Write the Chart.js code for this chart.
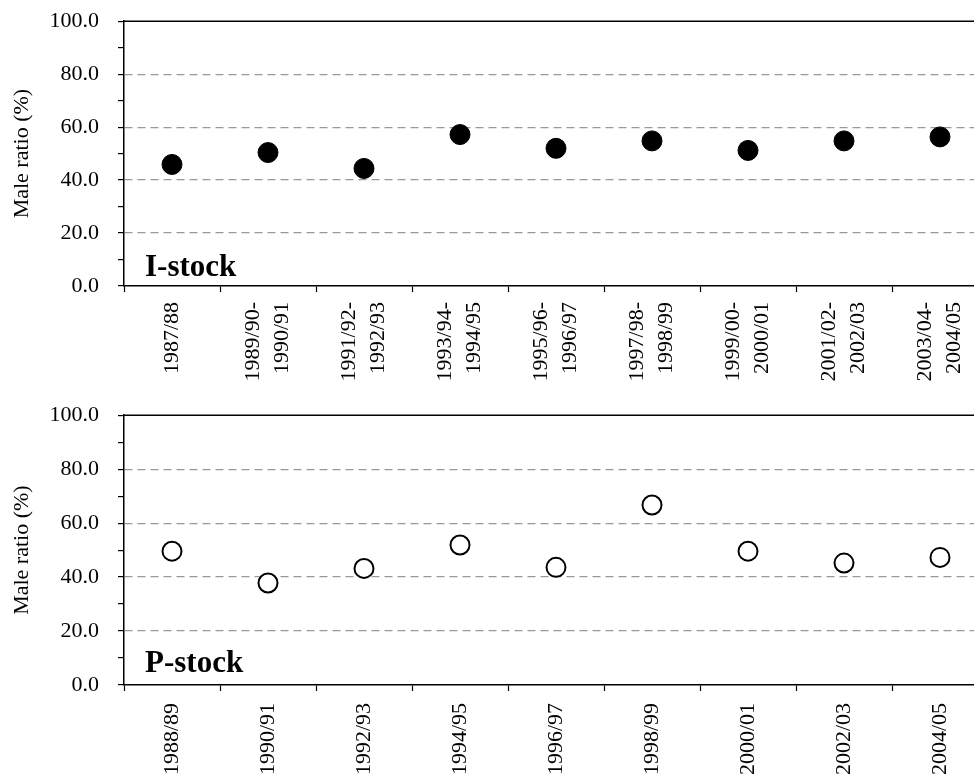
<!DOCTYPE html>
<html>
<head>
<meta charset="utf-8">
<title>Male ratio by season</title>
<script src="https://cdn.jsdelivr.net/npm/chart.js@4.4.1/dist/chart.umd.min.js"></script>
<style>
  html, body { margin: 0; padding: 0; background: #fff; overflow: hidden; }
  #wrap { position: relative; width: 974px; height: 783px; overflow: hidden; }
  canvas { position: absolute; left: 0; }
  /* the y tick padding pushes the plot down ~32px, so the canvases start a bit higher */
  #chartI { top: -11px; }
  #chartP { top: 383px; }
</style>
</head>
<body>
<div id="wrap">
  <canvas id="chartI" width="1018" height="401"></canvas>
  <canvas id="chartP" width="1018" height="400"></canvas>
</div>
<script>
// season labels (multi-line ones are split into two rows)
const seasonsI = [
    '1987/88',
    ['1989/90-', '1990/91'],
    ['1991/92-', '1992/93'],
    ['1993/94-', '1994/95'],
    ['1995/96-', '1996/97'],
    ['1997/98-', '1998/99'],
    ['1999/00-', '2000/01'],
    ['2001/02-', '2002/03'],
    ['2003/04-', '2004/05']
];
const seasonsP = ['1988/89', '1990/91', '1992/93', '1994/95', '1996/97',
                  '1998/99', '2000/01', '2002/03', '2004/05'];

// male ratio (%)
const maleRatioI = [45.9, 50.4, 44.4, 57.2, 52.0, 54.8, 51.2, 54.8, 56.3];
const maleRatioP = [49.6, 37.8, 43.2, 51.9, 43.6, 66.7, 49.6, 45.2, 47.3];

const yTicks = [0, 20, 40, 60, 80, 100];

const SERIF = "'Liberation Serif', 'Times New Roman', serif";
const LABEL_SIZE = 22;
const LABEL_LH = 29;   // px between the two rows of a rotated label

// frame line along the top of the plot + stock name in the corner
const panelDecor = {
    id: 'panelDecor',
    afterDraw(chart, args, opts) {
        const { ctx, chartArea } = chart;
        ctx.save();
        ctx.strokeStyle = '#000';
        ctx.lineWidth = 1.5;
        ctx.beginPath();
        ctx.moveTo(chartArea.left, chartArea.top);
        ctx.lineTo(chartArea.right, chartArea.top);
        ctx.stroke();
        ctx.fillStyle = '#000';
        ctx.font = 'bold 31px ' + SERIF;
        ctx.textBaseline = 'alphabetic';
        ctx.textAlign = 'left';
        ctx.fillText(opts.text, chartArea.left + 21, chartArea.bottom - opts.lift);
        ctx.restore();
    }
};

function makeChart(id, labels, values, filled, name, xHeight, lift, xPad) {
    const twoRow = labels.some(Array.isArray);
    const ctx = document.getElementById(id).getContext('2d');
    return new Chart(ctx, {
        type: 'line',
        data: {
            labels: labels,
            datasets: [{
                data: values,
                showLine: false,
                pointRadius: filled ? 10 : 9.5,
                pointHoverRadius: filled ? 10 : 9.5,
                pointBorderWidth: filled ? 1 : 2,
                pointBackgroundColor: filled ? '#000' : '#fff',
                pointBorderColor: '#000'
            }]
        },
        options: {
            responsive: false,
            animation: false,
            events: [],
            layout: { padding: { top: 0, right: 30, left: 0, bottom: 0 } },
            plugins: {
                legend: { display: false },
                tooltip: { enabled: false },
                panelDecor: { text: name, lift: lift }
            },
            scales: {
                x: {
                    type: 'category',
                    offset: true,
                    grid: {
                        offset: true,
                        drawOnChartArea: false,
                        tickLength: 6,
                        tickColor: '#000',
                        tickWidth: 1.2
                    },
                    border: { color: '#000', width: 1.5 },
                    ticks: {
                        color: '#000',
                        minRotation: 90,
                        maxRotation: 90,
                        autoSkip: false,
                        padding: xPad,
                        // centre the two-row labels on their category; a lone label
                        // gets an empty first row of half height to stay centred too
                        labelOffset: twoRow ? -LABEL_LH / 2 : 0,
                        font: (c) => ({
                            family: SERIF,
                            size: LABEL_SIZE,
                            lineHeight: (twoRow && !Array.isArray(labels[c.index]))
                                ? (LABEL_LH / 2) / LABEL_SIZE
                                : LABEL_LH / LABEL_SIZE
                        }),
                        callback: (v, i) => {
                            const l = labels[i];
                            if (twoRow && !Array.isArray(l)) return ['', l];
                            return l;
                        }
                    },
                    afterFit(scale) { scale.height = xHeight; }
                },
                y: {
                    min: 0,
                    max: 100,
                    grid: {
                        color: (c) => {
                            const v = c.tick ? c.tick.value : -1;
                            return (yTicks.includes(v) && v !== 0 && v !== 100) ? '#999' : 'rgba(0,0,0,0)';
                        },
                        lineWidth: 1.2,
                        tickLength: 6,
                        tickColor: '#000',
                        tickWidth: 1.2
                    },
                    border: { color: '#000', width: 1.5, dash: [8, 5] },
                    ticks: {
                        stepSize: 10,
                        autoSkip: false,
                        color: '#000',
                        padding: 19,
                        font: { family: SERIF, size: 22 },
                        callback: (v) => yTicks.includes(v) ? v.toFixed(1) : ''
                    },
                    title: {
                        display: true,
                        text: 'Male ratio (%)',
                        color: '#000',
                        font: { family: SERIF, size: 22 },
                        padding: { top: 9, bottom: 0 }
                    },
                    afterFit(scale) { scale.width = 124; }
                }
            }
        },
        plugins: [panelDecor]
    });
}

makeChart('chartI', seasonsI, maleRatioI, true, 'I-stock', 104, 10, 10);
makeChart('chartP', seasonsP, maleRatioP, false, 'P-stock', 98, 13, 12);
</script>
</body>
</html>
